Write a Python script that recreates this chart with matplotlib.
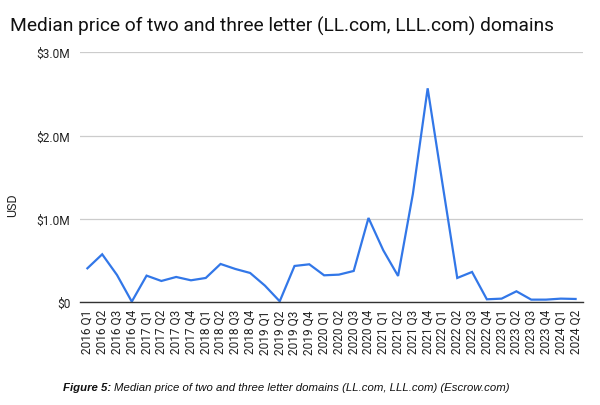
import matplotlib
matplotlib.use("Agg")
import matplotlib.pyplot as plt

quarters = ["2016 Q1", "2016 Q2", "2016 Q3", "2016 Q4",
            "2017 Q1", "2017 Q2", "2017 Q3", "2017 Q4",
            "2018 Q1", "2018 Q2", "2018 Q3", "2018 Q4",
            "2019 Q1", "2019 Q2", "2019 Q3", "2019 Q4",
            "2020 Q1", "2020 Q2", "2020 Q3", "2020 Q4",
            "2021 Q1", "2021 Q2", "2021 Q3", "2021 Q4",
            "2022 Q1", "2022 Q2", "2022 Q3", "2022 Q4",
            "2023 Q1", "2023 Q2", "2023 Q3", "2023 Q4",
            "2024 Q1", "2024 Q2"]
median_price = [408000, 576000, 328000, 8000,
                320000, 256000, 304000, 264000,
                292000, 460000, 400000, 352000,
                200000, 12000, 436000, 456000,
                324000, 332000, 376000, 1012000,
                624000, 316000, 1300000, 2568000,
                1424000, 292000, 364000, 36000,
                44000, 132000, 32000, 32000,
                44000, 40000]
y_ticks = [0, 1.0e6, 2.0e6, 3.0e6]
y_tick_labels = ["$0", "$1.0M", "$2.0M", "$3.0M"]

fig = plt.figure(figsize=(6.0, 4.06), dpi=100)
ax = fig.add_axes([80/600, 1-303.3/406, 503/600, 250/406])

x = list(range(len(quarters)))
ax.plot(x, median_price, color="#3277e8", linewidth=1.6, solid_joinstyle="miter")

ax.set_xlim(-0.5, len(quarters) - 0.5)
ax.set_ylim(0, 3.0e6)
ax.set_yticks(y_ticks)
ax.set_yticklabels(y_tick_labels)
ax.set_xticks(x)
ax.set_xticklabels(quarters, rotation=90)

for s in ["top", "right", "left"]:
    ax.spines[s].set_visible(False)
ax.spines["bottom"].set_color("#333333")
ax.spines["bottom"].set_linewidth(1.0)
ax.grid(axis="y", color="#cccccc", linewidth=0.9)
ax.set_axisbelow(True)
ax.tick_params(axis="both", length=0, labelsize=8.6, colors="#222222", labelfontfamily="Roboto")
ax.tick_params(axis="y", pad=7)
ax.tick_params(axis="x", pad=5)

fig.text(10/600, 1-31.7/406, "Median price of two and three letter (LL.com, LLL.com) domains",
         fontsize=13.8, family="Roboto", color="#111111", ha="left", va="baseline")
fig.text(13/600, 1-205/406, "USD", rotation=90, fontsize=9.0, family="Roboto",
         color="#222222", ha="center", va="center")

fig.text(63/600, 1-388/406, "Figure 5:", fontsize=8.2, family="Liberation Sans",
         style="italic", weight="bold", ha="left", va="center", color="#111111")
fig.text(113.5/600, 1-388/406, "Median price of two and three letter domains (LL.com, LLL.com) (Escrow.com)",
         fontsize=8.2, family="Liberation Sans", style="italic", ha="left", va="center", color="#111111")

fig.savefig("out.png", dpi=100, facecolor="white")
